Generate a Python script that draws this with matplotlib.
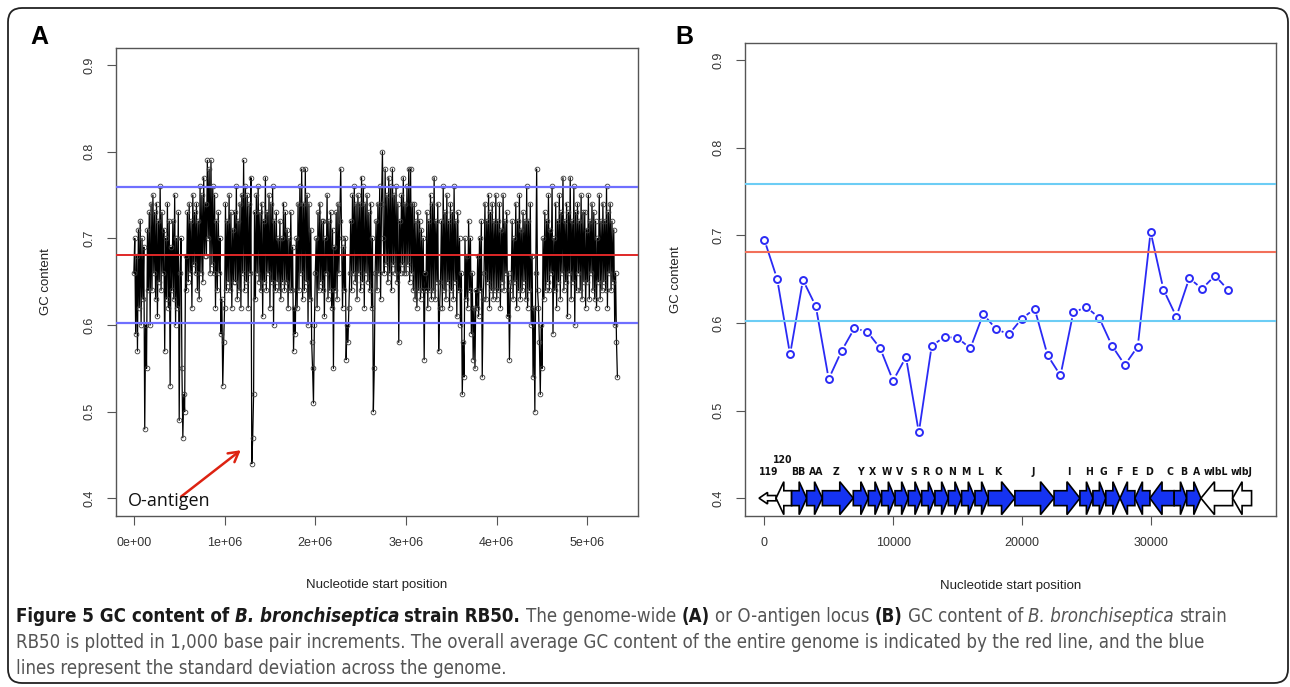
import numpy as np
import matplotlib.pyplot as plt
from matplotlib.patches import FancyBboxPatch, Polygon
from matplotlib.collections import LineCollection

# ---- panel A: genome-wide GC content (one reading every 10 kb)
genome_step = 10000
genome_gc = [
    0.66, 0.70, 0.59, 0.68, 0.57, 0.71, 0.62, 0.72, 0.60, 0.70, 0.63, 0.69, 0.48, 0.60, 0.55, 0.71, 0.64, 0.73, 0.60, 0.74,
    0.64, 0.75, 0.66, 0.73, 0.63, 0.74, 0.61, 0.72, 0.65, 0.76, 0.64, 0.73, 0.66, 0.71, 0.57, 0.70, 0.63, 0.74, 0.62, 0.72,
    0.53, 0.69, 0.64, 0.72, 0.63, 0.75, 0.60, 0.70, 0.62, 0.73, 0.49, 0.66, 0.70, 0.55, 0.47, 0.52, 0.50, 0.68, 0.64, 0.73,
    0.65, 0.74, 0.66, 0.72, 0.62, 0.75, 0.67, 0.73, 0.66, 0.74, 0.64, 0.72, 0.63, 0.76, 0.66, 0.75, 0.65, 0.77, 0.68, 0.74,
    0.68, 0.79, 0.70, 0.78, 0.66, 0.79, 0.67, 0.76, 0.66, 0.75, 0.62, 0.72, 0.64, 0.73, 0.66, 0.70, 0.59, 0.63, 0.53, 0.58,
    0.62, 0.74, 0.64, 0.72, 0.65, 0.75, 0.64, 0.73, 0.62, 0.71, 0.65, 0.73, 0.65, 0.76, 0.63, 0.72, 0.64, 0.74, 0.62, 0.75,
    0.66, 0.79, 0.64, 0.76, 0.65, 0.75, 0.62, 0.74, 0.66, 0.77, 0.44, 0.47, 0.52, 0.73, 0.63, 0.75, 0.66, 0.76, 0.65, 0.73,
    0.64, 0.74, 0.61, 0.72, 0.65, 0.77, 0.64, 0.73, 0.66, 0.75, 0.62, 0.74, 0.65, 0.76, 0.60, 0.72, 0.64, 0.73, 0.65, 0.70,
    0.64, 0.72, 0.63, 0.70, 0.65, 0.74, 0.64, 0.73, 0.65, 0.71, 0.62, 0.70, 0.64, 0.73, 0.64, 0.69, 0.57, 0.62, 0.59, 0.70,
    0.62, 0.74, 0.64, 0.76, 0.66, 0.78, 0.63, 0.74, 0.64, 0.78, 0.65, 0.75, 0.60, 0.74, 0.63, 0.71, 0.58, 0.55, 0.51, 0.60,
    0.66, 0.70, 0.62, 0.73, 0.64, 0.74, 0.65, 0.72, 0.64, 0.72, 0.61, 0.70, 0.66, 0.75, 0.63, 0.72, 0.64, 0.73, 0.62, 0.71,
    0.55, 0.69, 0.64, 0.73, 0.63, 0.74, 0.66, 0.72, 0.78, 0.70, 0.62, 0.69, 0.64, 0.70, 0.56, 0.60, 0.58, 0.62, 0.66, 0.72,
    0.64, 0.75, 0.66, 0.76, 0.65, 0.74, 0.63, 0.75, 0.66, 0.74, 0.64, 0.77, 0.65, 0.76, 0.62, 0.74, 0.66, 0.75, 0.65, 0.73,
    0.64, 0.74, 0.62, 0.70, 0.50, 0.55, 0.66, 0.72, 0.64, 0.74, 0.66, 0.76, 0.63, 0.74, 0.80, 0.70, 0.66, 0.78, 0.67, 0.75,
    0.65, 0.77, 0.66, 0.76, 0.64, 0.78, 0.67, 0.75, 0.66, 0.76, 0.65, 0.74, 0.58, 0.72, 0.66, 0.75, 0.67, 0.77, 0.66, 0.74,
    0.66, 0.76, 0.67, 0.78, 0.65, 0.78, 0.66, 0.74, 0.64, 0.74, 0.63, 0.72, 0.62, 0.73, 0.64, 0.72, 0.63, 0.71, 0.64, 0.70,
    0.56, 0.66, 0.64, 0.73, 0.62, 0.72, 0.64, 0.75, 0.63, 0.74, 0.64, 0.77, 0.63, 0.72, 0.65, 0.74, 0.57, 0.62, 0.65, 0.72,
    0.62, 0.76, 0.64, 0.73, 0.63, 0.75, 0.65, 0.72, 0.62, 0.74, 0.64, 0.73, 0.63, 0.76, 0.65, 0.72, 0.61, 0.73, 0.64, 0.70,
    0.60, 0.66, 0.52, 0.58, 0.54, 0.70, 0.63, 0.68, 0.62, 0.72, 0.64, 0.70, 0.59, 0.66, 0.56, 0.62, 0.55, 0.64, 0.62, 0.68,
    0.61, 0.70, 0.64, 0.72, 0.54, 0.63, 0.66, 0.74, 0.63, 0.72, 0.65, 0.75, 0.62, 0.73, 0.64, 0.74, 0.63, 0.72, 0.64, 0.75,
    0.63, 0.72, 0.64, 0.74, 0.62, 0.71, 0.65, 0.75, 0.64, 0.72, 0.66, 0.73, 0.61, 0.66, 0.56, 0.64, 0.65, 0.72, 0.63, 0.70,
    0.65, 0.74, 0.62, 0.72, 0.64, 0.75, 0.63, 0.71, 0.64, 0.73, 0.65, 0.72, 0.63, 0.76, 0.62, 0.72, 0.64, 0.74, 0.60, 0.68,
    0.54, 0.62, 0.50, 0.66, 0.78, 0.64, 0.62, 0.58, 0.52, 0.60, 0.55, 0.70, 0.63, 0.73, 0.64, 0.72, 0.65, 0.75, 0.64, 0.71,
    0.66, 0.76, 0.59, 0.70, 0.64, 0.74, 0.62, 0.72, 0.65, 0.75, 0.63, 0.73, 0.66, 0.77, 0.64, 0.72, 0.65, 0.74, 0.61, 0.73,
    0.66, 0.77, 0.63, 0.72, 0.65, 0.76, 0.60, 0.73, 0.64, 0.74, 0.66, 0.72, 0.64, 0.75, 0.63, 0.73, 0.65, 0.73, 0.62, 0.71,
    0.65, 0.75, 0.63, 0.72, 0.66, 0.74, 0.64, 0.73, 0.63, 0.72, 0.62, 0.70, 0.65, 0.75, 0.63, 0.72, 0.64, 0.74, 0.65, 0.72,
    0.64, 0.76, 0.62, 0.73, 0.66, 0.74, 0.64, 0.72, 0.65, 0.71, 0.60, 0.66, 0.58, 0.54,
]

gc_mean = 0.681
gc_sd_hi = 0.759
gc_sd_lo = 0.602

# ---- panel B: O-antigen locus, 1 kb windows
locus_start = [0, 1000, 2000, 3000, 4000, 5000, 6000, 7000, 8000, 9000,
               10000, 11000, 12000, 13000, 14000, 15000, 16000, 17000, 18000, 19000,
               20000, 21000, 22000, 23000, 24000, 25000, 26000, 27000, 28000, 29000,
               30000, 31000, 32000, 33000, 34000, 35000, 36000]
locus_gc = [0.695, 0.650, 0.564, 0.649, 0.619, 0.536, 0.568, 0.594, 0.590, 0.571,
            0.534, 0.561, 0.475, 0.574, 0.584, 0.583, 0.571, 0.610, 0.593, 0.587,
            0.605, 0.616, 0.563, 0.540, 0.612, 0.618, 0.606, 0.574, 0.552, 0.573,
            0.704, 0.638, 0.607, 0.651, 0.639, 0.654, 0.638]

# genes of the locus (kb)
gene_names = ['119', '120', 'BB', 'AA', 'Z', 'Y', 'X', 'W', 'V', 'S', 'R', 'O', 'N', 'M',
              'L', 'K', 'J', 'I', 'H', 'G', 'F', 'E', 'D', 'C', 'B', 'A', 'wlbL', 'wlbJ']
gene_left = [-0.41, 0.91, 2.12, 3.29, 4.51, 6.91, 8.08, 9.11, 10.15, 11.18, 12.22, 13.25, 14.29, 15.32,
             16.36, 17.39, 19.46, 22.50, 24.51, 25.52, 26.52, 27.62, 28.78, 29.95, 31.83, 32.80, 33.91, 36.37]
gene_right = [0.91, 2.12, 3.29, 4.51, 6.91, 8.08, 9.11, 10.15, 11.18, 12.22, 13.25, 14.29, 15.32, 16.36,
              17.39, 19.46, 22.50, 24.51, 25.52, 26.52, 27.62, 28.78, 29.95, 31.83, 32.80, 33.91, 36.37, 37.84]
gene_strand = [-1, -1, 1, 1, 1, 1, 1, 1, 1, 1, 1, 1, 1, 1,
               1, 1, 1, 1, 1, 1, 1, -1, -1, -1, 1, 1, -1, -1]
gene_in_locus = [False, False] + [True] * 24 + [False, False]
# where each gene name sits in the figure (kb)
gene_label_kb = [0.31, 1.43, 2.64, 4.05, 5.6, 7.47, 8.4, 9.5, 10.54, 11.57, 12.53, 13.56, 14.6, 15.63,
                 16.75, 18.12, 20.89, 23.67, 25.21, 26.32, 27.54, 28.7, 29.88, 31.54, 32.56, 33.6, 35.1, 37.1]

W, H = 1290, 687
fig = plt.figure(figsize=(W / 100, H / 100), dpi=100)

lab_font = ['Liberation Sans', 'DejaVu Sans']
tick_col = '#333333'


def px_axes(left, top, right, bottom):
    return fig.add_axes([left / W, 1 - bottom / H, (right - left) / W, (bottom - top) / H])


def style_axes(ax):
    for s in ax.spines.values():
        s.set_color('#555555')
        s.set_linewidth(1.0)
    ax.tick_params(length=6.5, width=0.8, color='#555555', labelsize=9, labelcolor=tick_col)
    ax.tick_params(axis='x', pad=9)
    ax.tick_params(axis='y', pad=8)
    ax.set_ylim(0.38, 0.92)
    ax.set_yticks([0.4, 0.5, 0.6, 0.7, 0.8, 0.9])
    ax.set_yticklabels(['0.4', '0.5', '0.6', '0.7', '0.8', '0.9'], family=lab_font)
    plt.setp(ax.get_yticklabels(), rotation=90, va='center')
    ax.set_ylabel('GC content', fontsize=9.5, family=lab_font, color='#222222')
    ax.set_xlabel('Nucleotide start position', fontsize=9.5, family=lab_font, color='#222222')
    ax.xaxis.set_label_coords(0.5, -0.135)


# ------------------------------------------------------------- panel A
ax_a = px_axes(115.7, 47.7, 638, 515.7)
style_axes(ax_a)
ax_a.yaxis.set_label_coords(-0.122, 0.5)
genome_pos = np.arange(len(genome_gc)) * genome_step
ax_a.plot(genome_pos, genome_gc, color='black', lw=0.9, marker='o', ms=3.4,
          mfc='none', mec='#3a3a3a', mew=0.6, zorder=2)
ax_a.axhline(gc_sd_hi, color='#6f6fff', lw=1.6, zorder=3)
ax_a.axhline(gc_sd_lo, color='#6f6fff', lw=1.6, zorder=3)
ax_a.axhline(gc_mean, color='#e02828', lw=1.4, zorder=3)
ax_a.set_xlim(-0.2e6, 5.557e6)
ax_a.set_xticks([0, 1e6, 2e6, 3e6, 4e6, 5e6])
ax_a.set_xticklabels(['0e+00', '1e+06', '2e+06', '3e+06', '4e+06', '5e+06'], family=lab_font)
ax_a.annotate('', xy=(1.202e6, 0.4575), xytext=(0.496e6, 0.400),
              arrowprops=dict(arrowstyle='->,head_length=0.7,head_width=0.4', color='#dd2211', lw=1.8))
ax_a.text(-0.066e6, 0.397, 'O-antigen', fontsize=13, family=['Open Sans', 'DejaVu Sans'],
          color='#111111', va='center', ha='left')

# ------------------------------------------------------------- panel B
ax_b = px_axes(745, 42.5, 1275.5, 515.7)
style_axes(ax_b)
ax_b.yaxis.set_label_coords(-0.119, 0.5)
ax_b.set_xlim(-1500, 39700)
ax_b.set_xticks([0, 10000, 20000, 30000])
ax_b.set_xticklabels(['0', '10000', '20000', '30000'], family=lab_font)
ax_b.axhline(gc_sd_hi, color='#6ccdf5', lw=1.5, zorder=4)
ax_b.axhline(gc_sd_lo, color='#6ccdf5', lw=1.5, zorder=4)
ax_b.axhline(gc_mean, color='#f2705a', lw=1.5, zorder=4)

# type "b" style: line segments stop short of every point
blue = '#2a2af5'
gap = 6.0
pts = ax_b.transData.transform(np.column_stack([locus_start, locus_gc]))
inv = ax_b.transData.inverted()
segs = []
for p0, p1 in zip(pts[:-1], pts[1:]):
    d = p1 - p0
    L = np.hypot(d[0], d[1])
    if L > 2 * gap:
        u = d / L
        segs.append(inv.transform(np.array([p0 + u * gap, p1 - u * gap])))
ax_b.add_collection(LineCollection(segs, colors=blue, linewidths=1.3, zorder=2))
ax_b.plot(locus_start, locus_gc, ls='none', marker='o', ms=5, mfc='none', mec=blue, mew=1.4, zorder=3)

# gene arrows
y0 = 0.4
for name, a, b, s, inl, lx in zip(gene_names, gene_left, gene_right, gene_strand,
                                  gene_in_locus, gene_label_kb):
    a, b = a * 1000, b * 1000
    hs, hh = 0.0085, 0.0188
    if name == '119':
        hs, hh = 0.003, 0.0066
    hl = min(1050, 0.5 * (b - a))
    if s > 0:
        poly = [(a, y0 - hs), (b - hl, y0 - hs), (b - hl, y0 - hh), (b, y0), (b - hl, y0 + hh),
                (b - hl, y0 + hs), (a, y0 + hs)]
    else:
        poly = [(b, y0 - hs), (a + hl, y0 - hs), (a + hl, y0 - hh), (a, y0), (a + hl, y0 + hh),
                (a + hl, y0 + hs), (b, y0 + hs)]
    ax_b.add_patch(Polygon(poly, closed=True, facecolor='#1533f2' if inl else 'white',
                           edgecolor='black', lw=1.2, zorder=5))
    ly = 0.4436 if name == '120' else 0.430
    ax_b.text(lx * 1000, ly, name, fontsize=7.5, fontweight='bold', family=['DejaVu Sans'],
              stretch='condensed', ha='center', va='center', color='#111111', zorder=6)

# ------------------------------------------------------------- frame, panel letters, caption
bg = fig.add_axes([0, 0, 1, 1], zorder=-1)
bg.set_xlim(0, W)
bg.set_ylim(H, 0)
bg.axis('off')
bg.add_patch(FancyBboxPatch((8, 8), 1280, 675, boxstyle='round,pad=0,rounding_size=14',
                            facecolor='white', edgecolor='#222222', lw=1.3))

fig.text(39 / W, 1 - 37 / H, 'A', fontsize=18, fontweight='bold', family=lab_font, ha='center', va='center')
fig.text(684 / W, 1 - 37 / H, 'B', fontsize=18, fontweight='bold', family=lab_font, ha='center', va='center')

cap_font = ['DejaVu Sans']
grey = '#555555'
dark = '#1a1a1a'
line1 = [('Figure 5 GC content of', 'bold', 'normal', dark),
         ('B. bronchiseptica', 'bold', 'italic', dark),
         ('strain RB50.', 'bold', 'normal', dark),
         ('The genome-wide', 'normal', 'normal', grey),
         ('(A)', 'bold', 'normal', dark),
         ('or O-antigen locus', 'normal', 'normal', grey),
         ('(B)', 'bold', 'normal', dark),
         ('GC content of', 'normal', 'normal', grey),
         ('B. bronchiseptica', 'normal', 'italic', grey),
         ('strain', 'normal', 'normal', grey)]
line2 = [('RB50 is plotted in 1,000 base pair increments. The overall average GC content of the entire '
          'genome is indicated by the red line, and the blue', 'normal', 'normal', grey)]
line3 = [('lines represent the standard deviation across the genome.', 'normal', 'normal', grey)]

renderer = fig.canvas.get_renderer()


def draw_line(pieces, x, y, size, draw=True):
    sp = fig.text(0, 0, 'x x', fontsize=size, family=cap_font, stretch='condensed')
    sp2 = fig.text(0, 0, 'xx', fontsize=size, family=cap_font, stretch='condensed')
    space = sp.get_window_extent(renderer).width - sp2.get_window_extent(renderer).width
    sp.remove()
    sp2.remove()
    start = x
    for i, (txt, wt, st, col) in enumerate(pieces):
        t = fig.text(x / W, 1 - y / H, txt, fontsize=size, fontweight=wt, fontstyle=st,
                     color=col, family=cap_font, stretch='condensed', va='baseline', ha='left')
        x += t.get_window_extent(renderer).width
        if not draw:
            t.remove()
        if i < len(pieces) - 1:
            x += space
    return x - start


base = 11.0
w1 = draw_line(line1, 0, 0, base, draw=False)
cap_size = base * (1227 - 16) / w1
draw_line(line1, 16, 622, cap_size)
draw_line(line2, 16, 648, cap_size)
draw_line(line3, 16, 674, cap_size)

fig.savefig('out.png', dpi=100)
